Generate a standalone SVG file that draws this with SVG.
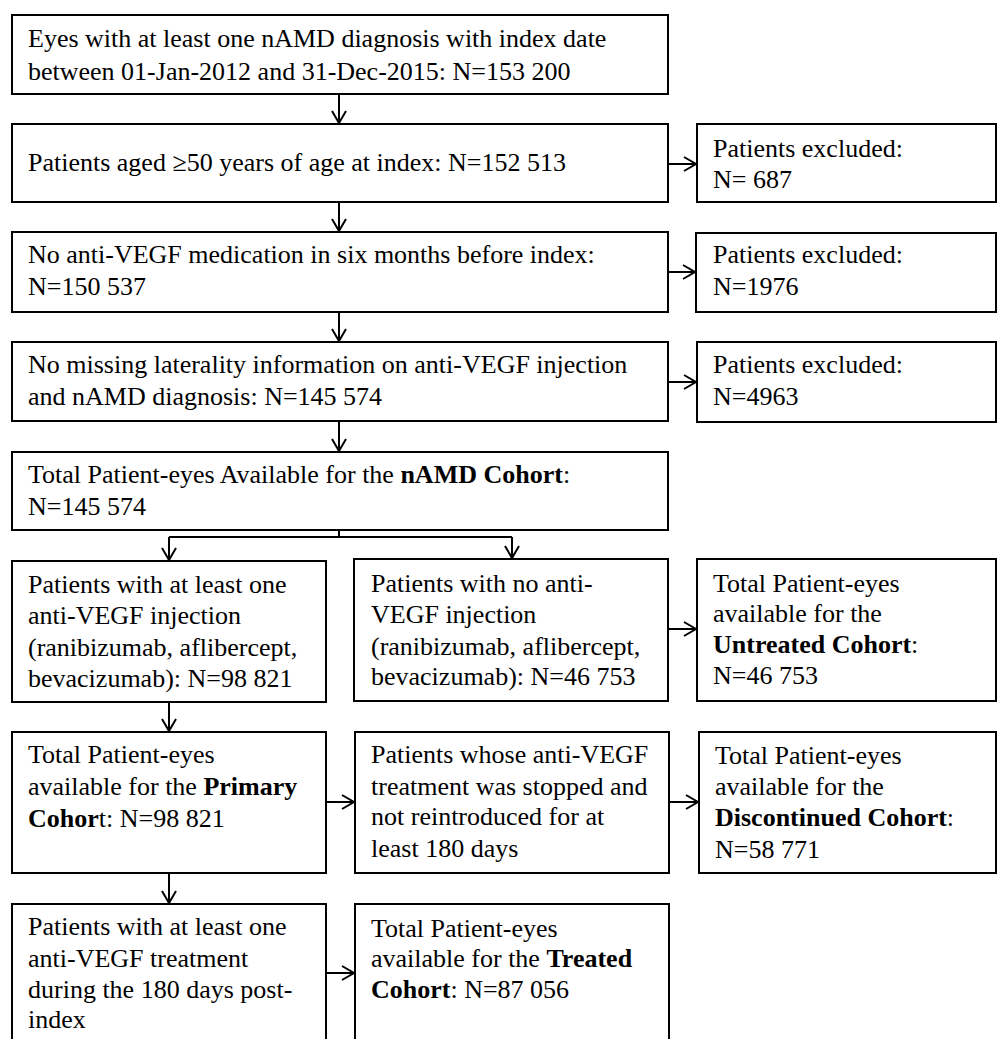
<svg xmlns="http://www.w3.org/2000/svg" width="998" height="1039" viewBox="0 0 998 1039">
<style>
.box{fill:#fff;stroke:#000;stroke-width:2}
.t{font-family:"Liberation Serif","Times New Roman",serif;font-size:26px;fill:#000}
.b{font-weight:bold}
.c{fill:none;stroke:#000;stroke-width:2}
</style>
<defs>
<marker id="ah" markerWidth="16" markerHeight="16" refX="14" refY="8" orient="auto" markerUnits="userSpaceOnUse" viewBox="0 0 16 16">
<path d="M2,1 L14,8 L2,15" fill="none" stroke="#000" stroke-width="2"/>
</marker>
</defs>
<rect width="998" height="1039" fill="#fff"/>
<g id="connectors">
<path class="c" d="M339,94 V123" marker-end="url(#ah)"/>
<path class="c" d="M339,202 V231" marker-end="url(#ah)"/>
<path class="c" d="M339,312 V341" marker-end="url(#ah)"/>
<path class="c" d="M339,421 V451" marker-end="url(#ah)"/>
<path class="c" d="M668,164 H696" marker-end="url(#ah)"/>
<path class="c" d="M668,272 H695" marker-end="url(#ah)"/>
<path class="c" d="M668,382 H696" marker-end="url(#ah)"/>
<path class="c" d="M339,530 V537 M169,537 H512"/>
<path class="c" d="M169,537 V560" marker-end="url(#ah)"/>
<path class="c" d="M512,537 V558" marker-end="url(#ah)"/>
<path class="c" d="M668,629 H696" marker-end="url(#ah)"/>
<path class="c" d="M169,702 V731" marker-end="url(#ah)"/>
<path class="c" d="M326,802 H354" marker-end="url(#ah)"/>
<path class="c" d="M669,802 H698" marker-end="url(#ah)"/>
<path class="c" d="M169,873 V903" marker-end="url(#ah)"/>
<path class="c" d="M326,973 H354" marker-end="url(#ah)"/>
</g>
<g id="n1"><rect class="box" x="12" y="15" width="656" height="79"/>
<text class="t" x="28" y="47">Eyes with at least one nAMD diagnosis with index date</text>
<text class="t" x="28" y="80">between 01-Jan-2012 and 31-Dec-2015: N=153 200</text></g>
<g id="n2"><rect class="box" x="12" y="124" width="656" height="78"/>
<text class="t" x="28" y="171">Patients aged ≥50 years of age at index: N=152 513</text></g>
<g id="e1"><rect class="box" x="697" y="124" width="299" height="78"/>
<text class="t" x="713" y="157">Patients excluded:</text>
<text class="t" x="713" y="188">N= 687</text></g>
<g id="n3"><rect class="box" x="12" y="232" width="656" height="80"/>
<text class="t" x="28" y="263">No anti-VEGF medication in six months before index:</text>
<text class="t" x="28" y="295">N=150 537</text></g>
<g id="e2"><rect class="box" x="696" y="233" width="300" height="79"/>
<text class="t" x="713" y="263">Patients excluded:</text>
<text class="t" x="713" y="295">N=1976</text></g>
<g id="n4"><rect class="box" x="12" y="342" width="656" height="79"/>
<text class="t" x="28" y="373">No missing laterality information on anti-VEGF injection</text>
<text class="t" x="28" y="405">and nAMD diagnosis: N=145 574</text></g>
<g id="e3"><rect class="box" x="697" y="342" width="299" height="80"/>
<text class="t" x="713" y="373">Patients excluded:</text>
<text class="t" x="713" y="405">N=4963</text></g>
<g id="n5"><rect class="box" x="12" y="452" width="656" height="78"/>
<text class="t" x="28" y="483">Total Patient-eyes Available for the <tspan class="b">nAMD Cohort</tspan>:</text>
<text class="t" x="28" y="515">N=145 574</text></g>
<g id="n6"><rect class="box" x="12" y="561" width="314" height="141"/>
<text class="t" x="28" y="593">Patients with at least one</text>
<text class="t" x="28" y="624">anti-VEGF injection</text>
<text class="t" x="28" y="656">(ranibizumab, aflibercept,</text>
<text class="t" x="28" y="687">bevacizumab): N=98 821</text></g>
<g id="n7"><rect class="box" x="354" y="559" width="314" height="142"/>
<text class="t" x="371" y="592">Patients with no anti-</text>
<text class="t" x="371" y="623">VEGF injection</text>
<text class="t" x="371" y="655">(ranibizumab, aflibercept,</text>
<text class="t" x="371" y="685">bevacizumab): N=46 753</text></g>
<g id="untreated"><rect class="box" x="697" y="559" width="299" height="142"/>
<text class="t" x="713" y="592">Total Patient-eyes</text>
<text class="t" x="713" y="622">available for the</text>
<text class="t" x="713" y="653"><tspan class="b">Untreated Cohort</tspan>:</text>
<text class="t" x="713" y="684">N=46 753</text></g>
<g id="primary"><rect class="box" x="12" y="732" width="314" height="141"/>
<text class="t" x="28" y="763">Total Patient-eyes</text>
<text class="t" x="28" y="795">available for the <tspan class="b">Primary</tspan></text>
<text class="t" x="28" y="827"><tspan class="b">Cohor</tspan>t: N=98 821</text></g>
<g id="stopped"><rect class="box" x="355" y="732" width="314" height="141"/>
<text class="t" x="371" y="763">Patients whose anti-VEGF</text>
<text class="t" x="371" y="795">treatment was stopped and</text>
<text class="t" x="371" y="825">not reintroduced for at</text>
<text class="t" x="371" y="857">least 180 days</text></g>
<g id="discontinued"><rect class="box" x="699" y="732" width="297" height="141"/>
<text class="t" x="715" y="764">Total Patient-eyes</text>
<text class="t" x="715" y="795">available for the</text>
<text class="t" x="715" y="826"><tspan class="b">Discontinued Cohort</tspan>:</text>
<text class="t" x="715" y="858">N=58 771</text></g>
<g id="n8"><rect class="box" x="12" y="904" width="314" height="150"/>
<text class="t" x="28" y="935">Patients with at least one</text>
<text class="t" x="28" y="967">anti-VEGF treatment</text>
<text class="t" x="28" y="998">during the 180 days post-</text>
<text class="t" x="28" y="1028">index</text></g>
<g id="treated"><rect class="box" x="355" y="904" width="314" height="150"/>
<text class="t" x="371" y="937">Total Patient-eyes</text>
<text class="t" x="371" y="967">available for the <tspan class="b">Treated</tspan></text>
<text class="t" x="371" y="998"><tspan class="b">Cohort</tspan>: N=87 056</text></g>
</svg>
